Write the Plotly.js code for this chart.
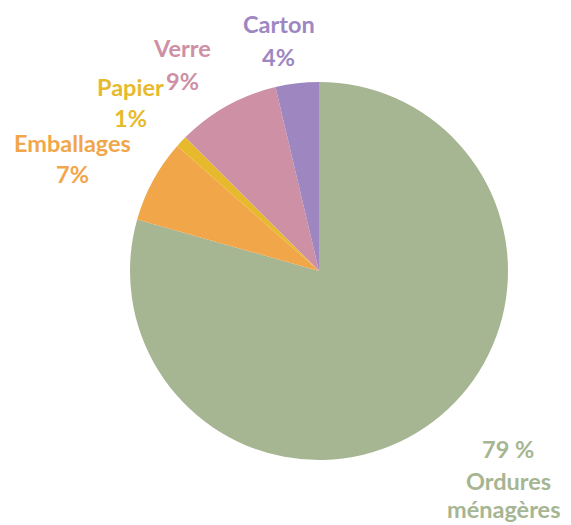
<!DOCTYPE html>
<html>
<head>
<meta charset="utf-8">
<script src="https://cdn.plot.ly/plotly-3.0.1.min.js"></script>
<style>html,body{margin:0;padding:0;background:#fff;}#chart{width:571px;height:525px;}</style>
</head>
<body>
<div id="chart"></div>
<script>
// Data
const categories = ["Ordures ménagères", "Emballages", "Papier", "Verre", "Carton"];
const values = [79.4, 7.1, 1.0, 8.8, 3.7];
const nameLines = [["79 %", "Ordures", "ménagères"], ["Emballages", "7%"], ["Papier", "1%"], ["Verre", "9%"], ["Carton", "4%"]];

// Style
const colors = ["#A6B592", "#F2A64A", "#E6BA2C", "#CE90A4", "#9E87C1"];
const W = 571, H = 525;
// label line positions in pixels [x, y] for each line
const labelPos = [
  [[508, 449], [508, 481], [503, 509]],
  [[72, 143], [72, 174]],
  [[130, 87], [130, 118]],
  [[182, 48], [182, 81]],
  [[279, 24], [278, 57]]
];

const annotations = [];
nameLines.forEach((lines, i) => {
  lines.forEach((t, j) => {
    const p = labelPos[i][j];
    annotations.push({
      text: "<b>" + t + "</b>",
      x: p[0] / W, y: 1 - p[1] / H, xref: "paper", yref: "paper",
      xanchor: "center", yanchor: "middle", showarrow: false,
      font: {family: "Lato, 'Open Sans', sans-serif", size: 23.5, color: colors[i]}
    });
  });
});

const cx = 319, cy = 271, r = 189;
Plotly.newPlot("chart", [{
  type: "pie",
  labels: categories,
  values: values,
  sort: false,
  direction: "clockwise",
  rotation: 0,
  textinfo: "none",
  hoverinfo: "label+percent",
  marker: {colors: colors, line: {color: "#ffffff", width: 0}},
  domain: {x: [(cx - r) / W, (cx + r) / W], y: [1 - (cy + r) / H, 1 - (cy - r) / H]},
  showlegend: false
}], {
  width: W, height: H,
  margin: {l: 0, r: 0, t: 0, b: 0},
  paper_bgcolor: "#ffffff",
  annotations: annotations
}, {displayModeBar: false, staticPlot: true});
</script>
</body>
</html>
